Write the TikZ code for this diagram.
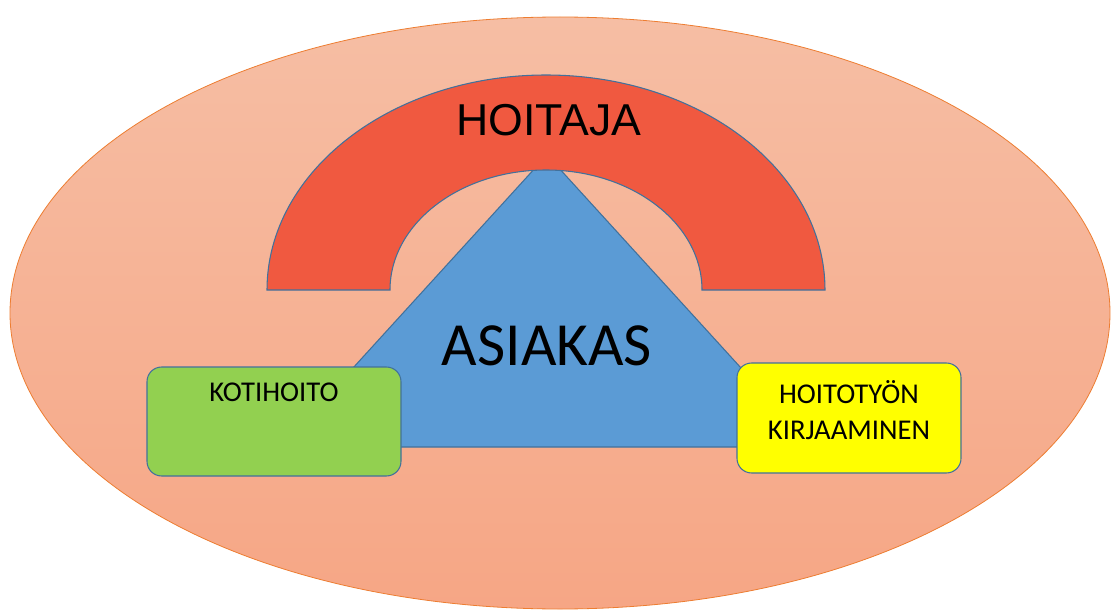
\documentclass[tikz,border=0pt]{standalone}
\usepackage{fontspec}
\setmainfont{Carlito}
\newfontfamily\arialfont{Liberation Sans}
\definecolor{ovalTop}{RGB}{246,190,164}
\definecolor{ovalBot}{RGB}{246,166,133}
\definecolor{ovalLine}{RGB}{237,125,49}
\definecolor{archFill}{RGB}{240,89,64}
\definecolor{triFill}{RGB}{91,155,213}
\definecolor{edgeBlue}{RGB}{65,113,156}
\definecolor{boxGreen}{RGB}{146,208,80}
\definecolor{boxYellow}{RGB}{255,255,0}
\tikzset{
  outline/.style={draw=edgeBlue, line width=0.8pt},
  card/.style={outline, rounded corners=11pt, inner sep=0pt, rectangle},
  cardtext/.style={font=\fontsize{21.5}{26.5}\selectfont, text=black, align=center, inner sep=0pt},
}
\begin{document}
\begin{tikzpicture}[x=0.75pt, y=-0.75pt]
\useasboundingbox (0,0) rectangle (1111,610);

% surrounding oval
\shade[top color=ovalTop, bottom color=ovalBot, draw=ovalLine, line width=0.6pt]
  (560,313) ellipse [x radius=550, y radius=296];

% client triangle (apex hidden behind the arch)
\path[fill=triFill, outline] (547,155) coordinate (apex)
  -- (281,447) coordinate (bl) -- (813,447) coordinate (br) -- cycle;

% nurse arch
\path[fill=archFill, outline]
  (267,290) arc[start angle=180, end angle=360, x radius=279, y radius=215]
  -- (702,290) arc[start angle=0, end angle=-180, x radius=156, y radius=120]
  -- cycle;

\node[font=\arialfont\fontsize{33.5}{38}\selectfont, inner sep=0pt] (hoitaja) at (549,120) {HOITAJA};
\node[font=\fontsize{46}{50}\selectfont, inner sep=0pt] (asiakas) at (547,346) {ASIAKAS};

% side cards
\node[card, fill=boxGreen, minimum width=190.5pt, minimum height=81.75pt] (koti) at (274,421.5) {};
\node[cardtext, anchor=north] (kotitext) at ([yshift=-12pt]koti.north) {KOTIHOITO};

\node[card, fill=boxYellow, minimum width=168pt, minimum height=82.5pt] (kirjaus) at (849,418) {};
\node[cardtext] (kirjaustext) at ([yshift=6pt]kirjaus.center) {HOITOTYÖN\\KIRJAAMINEN};
\end{tikzpicture}
\end{document}
